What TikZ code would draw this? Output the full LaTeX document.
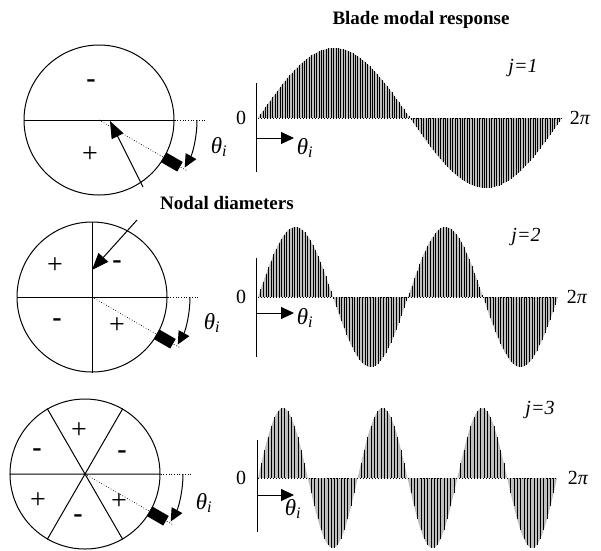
\documentclass[tikz,border=0pt]{standalone}
\usepackage{fontspec}
\setmainfont{Liberation Serif}
\usetikzlibrary{arrows.meta,calc}

\begin{document}
\begin{tikzpicture}[x=1pt, y=-1pt, line width=1pt,
    disc/.style={circle, draw, minimum size=150pt, inner sep=0pt},
    sgn/.style={font=\fontsize{28}{28}\selectfont, inner sep=0pt},
    blade/.style={fill, minimum width=19pt, minimum height=11pt, inner sep=0pt},
    lbl/.style={font=\fontsize{20}{22}\selectfont},
    ang/.style={font=\fontsize{23}{24}\selectfont\itshape},
    big/.style={-{Triangle[length=17pt,width=13pt]}},
    tip/.style={-{Triangle[length=13pt,width=12pt]}}]
    \useasboundingbox (0,0) rectangle (601,550);

    % rotors and nodal diameters
    \node[disc] (c1) at (99,120) {};
    \node[disc] (c2) at (92,297) {};
    \node[disc] (c3) at (85,474) {};
    \draw (c1.west) -- (c1.east);
    \draw (c2.west) -- (c2.east) (c2.north) -- (c2.south);
    \draw (c3.west) -- (c3.east) (c3.60) -- (c3.240) (c3.120) -- (c3.300);

    \foreach \c in {c1,c2,c3} {
      \draw[dotted, line width=0.7pt] (\c.east) -- ++(31,0);
      \draw[dotted, line width=0.7pt] (\c.center) -- ++(30:101);
      \node[blade, rotate=-30] (b\c) at ($(\c.center)+(30:84)$) {};
      \draw[tip] ($(\c.center)+(0:98)$) arc[start angle=0, end angle=29, radius=98];
    }

    \node[sgn] (m11) at (91,84) {\textbf{-}};
    \node[sgn] (p12) at (90,155) {+};
    \node[sgn] (p21) at (55,266) {+};
    \node[sgn] (m22) at (117,265) {\textbf{-}};
    \node[sgn] (m23) at (57,323) {\textbf{-}};
    \node[sgn] (p24) at (117,326) {+};
    \node[sgn] (p31) at (79,431) {+};
    \node[sgn] (m32) at (37,453) {\textbf{-}};
    \node[sgn] (m33) at (122,455) {\textbf{-}};
    \node[sgn] (p34) at (38,501) {+};
    \node[sgn] (m35) at (78,519) {\textbf{-}};
    \node[sgn] (p36) at (119,502) {+};

    \node[ang] (a1) at (219,147) {θ\textsubscript{i}};
    \node[ang] (a2) at (212,323) {θ\textsubscript{i}};
    \node[ang] (a3) at (204,503) {θ\textsubscript{i}};

    \node[lbl, font=\bfseries\fontsize{19}{22}\selectfont] (nd) at (227,203) {Nodal diameters};
    \coordinate (t1) at (143,187);
    \coordinate (t2) at (137,220);
    \coordinate (d1) at (110,121);
    \coordinate (d2) at (92,270);
    \draw[big] (t1) -- (d1);
    \draw[big] (t2) -- (d2);

    % blade modal response
    \node[lbl, font=\bfseries\fontsize{19}{22}\selectfont] (title) at (421,20) {Blade modal response};

    \foreach \j/\yb/\xe/\nb in {1/118/562/125, 2/297/558/115, 3/478/557/90} {
      \fill[gray!50] plot[domain=258:\xe, samples=150]
        (\x, {\yb-70*sin(\j*360/(\xe-258)*(\x-258))}) -- cycle;
      \foreach \k in {1,...,\nb} {
        \pgfmathsetmacro\xx{258+(\xe-258)/\nb*\k}
        \draw[line width=0.5pt] (\xx,\yb) -- (\xx,{\yb-70*sin(\j*360/\nb*\k)});
      }
      \draw[dotted] (258,\yb) -- (\xe,\yb);
    }

    \draw (256,83) -- (256,172);
    \draw (256,258) -- (256,357);
    \draw (257,440) -- (257,532);
    \draw[tip] (257,138) -- (294,138);
    \draw[tip] (257,313) -- (294,313);
    \draw[tip] (258,495) -- (294,495);

    \node[lbl] (z1) at (241,118) {0};
    \node[lbl] (z2) at (241,297) {0};
    \node[lbl] (z3) at (241,478) {0};
    \node[lbl] (e1) at (580,118) {2\textit{π}};
    \node[lbl] (e2) at (577,297) {2\textit{π}};
    \node[lbl] (e3) at (578,478) {2\textit{π}};
    \node[ang] (g1) at (305,148) {θ\textsubscript{i}};
    \node[ang] (g2) at (305,318) {θ\textsubscript{i}};
    \node[ang] (g3) at (293,509) {θ\textsubscript{i}};
    \node[lbl] (j1) at (523,68) {\itshape j=1};
    \node[lbl] (j2) at (526,237) {\itshape j=2};
    \node[lbl] (j3) at (540,410) {\itshape j=3};
\end{tikzpicture}
\end{document}
